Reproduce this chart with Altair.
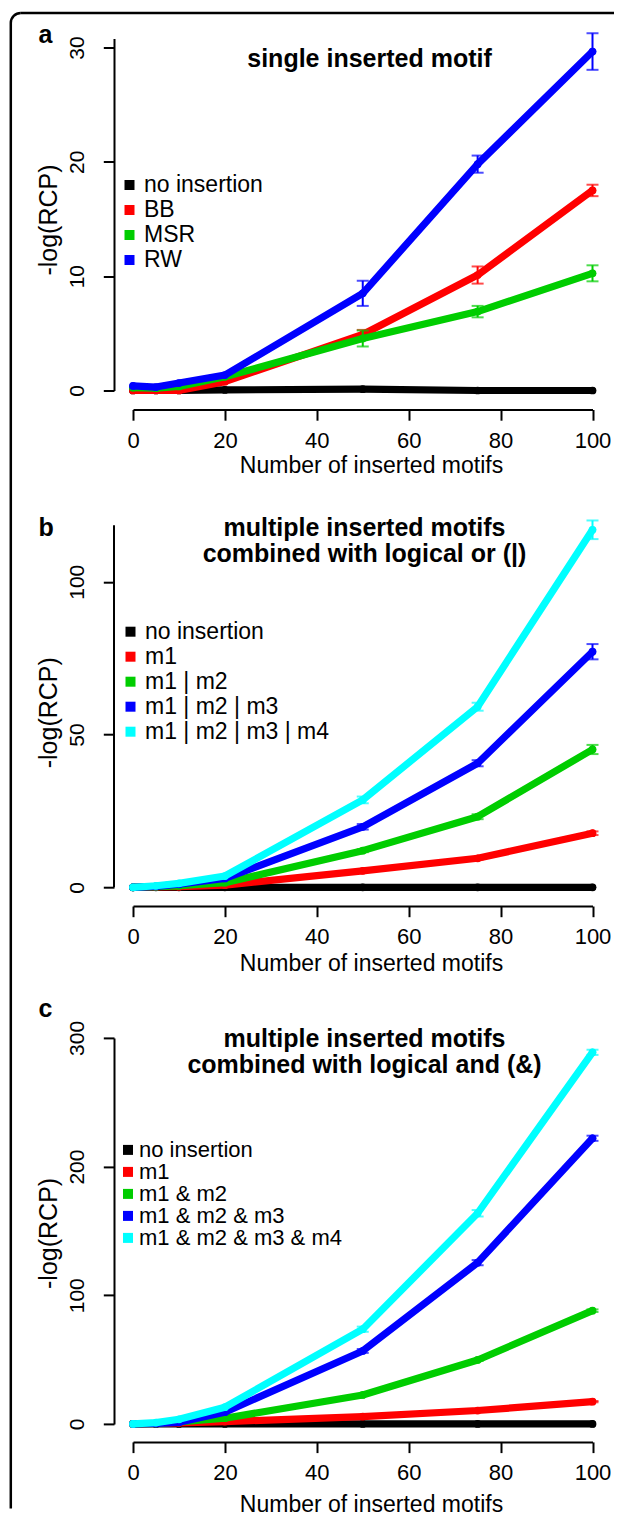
import altair as alt
import pandas as pd

FONT = "Liberation Sans"

# ---------------- data ----------------
X = [0, 5, 10, 20, 50, 75, 100]
XTICKS = [0, 20, 40, 60, 80, 100]
COLORS4 = ["#000000", "#FF0000", "#00CD00", "#0000FF"]
COLORS5 = ["#000000", "#FF0000", "#00CD00", "#0000FF", "#00FFFF"]

# panel a: single inserted motif
A_NAMES = ["no insertion", "BB", "MSR", "RW"]
A_NOINS = [0.0, 0.0, 0.0, 0.05, 0.12, 0.0, 0.0]
A_BB = [0.0, 0.0, 0.0, 0.77, 4.9, 10.1, 17.5]
A_MSR = [0.25, 0.2, 0.35, 1.2, 4.55, 6.9, 10.25]
A_RW = [0.4, 0.3, 0.65, 1.35, 8.5, 19.8, 29.65]
A_NOINS_ERR = [0, 0, 0, 0, 0, 0, 0]
A_BB_ERR = [0, 0, 0, 0, 0.4, 0.75, 0.5]
A_MSR_ERR = [0, 0, 0, 0, 0.7, 0.5, 0.7]
A_RW_ERR = [0, 0, 0, 0, 1.1, 0.75, 1.6]

# panel b: logical or
B_NAMES = ["no insertion", "m1", "m1 | m2", "m1 | m2 | m3", "m1 | m2 | m3 | m4"]
B_NOINS = [0, 0, 0, 0, 0, 0, 0]
B_M1 = [0.0, 0.1, 0.2, 0.7, 5.4, 9.5, 17.7]
B_M12 = [0.0, 0.2, 0.5, 1.5, 12.0, 23.1, 45.1]
B_M123 = [0.0, 0.3, 1.0, 2.9, 19.8, 40.6, 77.1]
B_M1234 = [0.0, 0.5, 1.3, 3.7, 28.6, 59.1, 117.0]
B_NOINS_ERR = [0, 0, 0, 0, 0, 0, 0]
B_M1_ERR = [0, 0, 0, 0, 0.3, 0.4, 0.6]
B_M12_ERR = [0, 0, 0, 0, 0.5, 0.8, 1.5]
B_M123_ERR = [0, 0, 0, 0, 0.9, 1.0, 2.5]
B_M1234_ERR = [0, 0, 0, 0, 1.1, 1.3, 3.05]

# panel c: logical and
C_NAMES = ["no insertion", "m1", "m1 & m2", "m1 & m2 & m3", "m1 & m2 & m3 & m4"]
C_NOINS = [0, 0, 0, 0, 0, 0, 0]
C_M1 = [0.0, 0.3, 0.8, 1.8, 5.7, 10.4, 17.3]
C_M12 = [0.0, 0.4, 1.5, 4.4, 22.5, 49.7, 88.0]
C_M123 = [0.0, 0.3, 1.2, 9.1, 56.7, 125.3, 222.0]
C_M1234 = [0.0, 1.0, 3.6, 13.0, 73.6, 163.7, 288.8]
C_NOINS_ERR = [0, 0, 0, 0, 0, 0, 0]
C_M1_ERR = [0, 0, 0, 0, 0.3, 0.4, 0.5]
C_M12_ERR = [0, 0, 0, 0, 0.5, 0.7, 1.0]
C_M123_ERR = [0, 0, 0, 0, 1.5, 2.0, 2.0]
C_M1234_ERR = [0, 0, 0, 0, 2.0, 2.5, 2.0]

ONE = pd.DataFrame({"k": [0]})


def xaxis(offset, title_y):
    return alt.Axis(values=XTICKS, title="Number of inserted motifs", grid=False,
                    offset=offset, domainColor="black", domainWidth=2,
                    tickColor="black", tickWidth=2, tickSize=10.7,
                    labelFont=FONT, labelFontSize=22, labelColor="black",
                    labelPadding=10, labelFlush=False, labelOverlap=False,
                    labelAngle=0, labelAlign="center", labelBaseline="top",
                    titleFont=FONT, titleFontSize=23, titleFontWeight="normal",
                    titleColor="black", titleX=238, titleY=title_y,
                    titleAlign="center", titleBaseline="alphabetic")


def yaxis(values, title_y, domain=True):
    return alt.Axis(values=values, title="-log(RCP)", grid=False, offset=19,
                    domain=domain, domainColor="black", domainWidth=2,
                    tickColor="black", tickWidth=2, tickSize=10.7,
                    labelFont=FONT, labelFontSize=21, labelColor="black",
                    labelPadding=19.6, labelFlush=False, labelOverlap=False,
                    labelAngle=270, labelAlign="center", labelBaseline="alphabetic",
                    titleFont=FONT, titleFontSize=25, titleFontWeight="normal",
                    titleColor="black", titleX=-65.3, titleY=title_y,
                    titleAngle=270, titleAlign="center", titleBaseline="middle")


def text_layer(txt, x, y, size=25, bold=True, align="center"):
    return alt.Chart(ONE).mark_text(
        font=FONT, fontSize=size, fontWeight="bold" if bold else "normal",
        align=align, baseline="alphabetic", color="black"
    ).encode(x=alt.value(x), y=alt.value(y), text=alt.value(txt))


def panel(names, ys, errs, colors, ydom, height, yvals, ax_x, ax_y,
          legend_xy, legend_row, legend_off, legend_font, extra):
    xs = alt.Scale(domain=[0, 100], nice=False, zero=False)
    ysc = alt.Scale(domain=ydom, nice=False, zero=False)
    layers = []
    for name, vals, err, col in zip(names, ys, errs, colors):
        df = pd.DataFrame({"x": X, "y": vals, "err": err})
        df["lo"] = df["y"] - df["err"]
        df["hi"] = df["y"] + df["err"]
        base = alt.Chart(df)
        layers.append(base.mark_line(color=col, strokeWidth=7.2, strokeCap="round",
                                     strokeJoin="round").encode(
            x=alt.X("x:Q", scale=xs, axis=ax_x), y=alt.Y("y:Q", scale=ysc, axis=ax_y)))
        layers.append(base.mark_circle(color=col, size=60, opacity=1).encode(
            x=alt.X("x:Q", scale=xs, axis=ax_x), y=alt.Y("y:Q", scale=ysc, axis=ax_y)))
        ebase = base.transform_filter("datum.err > 0")
        layers.append(ebase.mark_rule(color=col, strokeWidth=2).encode(
            x=alt.X("x:Q", scale=xs, axis=ax_x), y=alt.Y("lo:Q", scale=ysc, axis=ax_y),
            y2="hi:Q"))
        for f in ["lo", "hi"]:
            layers.append(ebase.mark_tick(color=col, orient="horizontal", size=12,
                                          thickness=2).encode(
                x=alt.X("x:Q", scale=xs, axis=ax_x), y=alt.Y(f + ":Q", scale=ysc, axis=ax_y)))
    # legend carrier (invisible squares)
    ldf = pd.DataFrame({"series": names, "x": [0] * len(names), "y": [0] * len(names)})
    layers.append(alt.Chart(ldf).mark_square(size=100, opacity=0).encode(
        x=alt.X("x:Q", scale=xs, axis=ax_x), y=alt.Y("y:Q", scale=ysc, axis=ax_y),
        color=alt.Color("series:N", scale=alt.Scale(domain=names, range=colors),
                        legend=alt.Legend(orient="none", legendX=legend_xy[0],
                                          legendY=legend_xy[1], title=None,
                                          symbolType="square", symbolSize=100,
                                          symbolStrokeWidth=0, symbolOpacity=1,
                                          labelFont=FONT, labelFontSize=legend_font,
                                          labelColor="black", rowPadding=legend_row,
                                          labelOffset=legend_off, padding=0,
                                          labelLimit=400))))
    layers.extend(extra)
    return alt.layer(*layers).properties(width=459.5, height=height)


# frame pieces and annotations (panel a)
frame = [
    alt.Chart(ONE).mark_rule(color="black", strokeWidth=2.5).encode(
        x=alt.value(-122.2), y=alt.value(-15.5), y2=alt.value(1470)),
    alt.Chart(ONE).mark_rule(color="black", strokeWidth=2.5).encode(
        x=alt.value(-112.2), x2=alt.value(481), y=alt.value(-25.5)),
    alt.Chart(ONE).mark_arc(innerRadius=8.75, outerRadius=11.25, theta=4.7124,
                            theta2=6.2832, color="black").encode(
        x=alt.value(-112.2), y=alt.value(-15.5)),
]

pa = panel(A_NAMES, [A_NOINS, A_BB, A_MSR, A_RW],
           [A_NOINS_ERR, A_BB_ERR, A_MSR_ERR, A_RW_ERR], COLORS4,
           [0, 30.79], 352, [0, 10, 20, 30], xaxis(19, 62.7), yaxis([0, 10, 20, 30], 181),
           (-15, 135), 1, 3, 23,
           frame + [text_layer("single inserted motif", 236.5, 28.7),
                    text_layer("a", -94.5, 4.7, align="left")])

pb = panel(B_NAMES, [B_NOINS, B_M1, B_M12, B_M123, B_M1234],
           [B_NOINS_ERR, B_M1_ERR, B_M12_ERR, B_M123_ERR, B_M1234_ERR], COLORS5,
           [-5.2, 118.5], 378, [0, 50, 100], xaxis(2.8, 64), yaxis([0, 50, 100], 187, False),
           (-14, 95), 1, 3, 23,
           [alt.Chart(ONE).mark_rule(color="black", strokeWidth=2).encode(
               x=alt.value(-19), y=alt.YDatum(0), y2=alt.Y2Datum(118.5)),
            text_layer("multiple inserted motifs", 231.5, 11),
            text_layer("combined with logical or (|)", 231.5, 36.7),
            text_layer("b", -94.5, 11, align="left")])

pc = panel(C_NAMES, [C_NOINS, C_M1, C_M12, C_M123, C_M1234],
           [C_NOINS_ERR, C_M1_ERR, C_M12_ERR, C_M123_ERR, C_M1234_ERR], COLORS5,
           [0, 300], 386, [0, 100, 200, 300], xaxis(18, 70), yaxis([0, 100, 200, 300], 195),
           (-16, 101), 0, 0, 22,
           [text_layer("multiple inserted motifs", 231.5, 9),
            text_layer("combined with logical and (&)", 231.5, 35),
            text_layer("c", -94.5, -20.7, align="left")])

chart = alt.vconcat(pa, pb, pc, spacing=134.7, bounds="flush").resolve_scale(
    color="independent"
).resolve_legend(color="independent").properties(
    padding={"left": 1, "top": 3.5, "right": 0, "bottom": 0}
).configure(font=FONT).configure_view(stroke=None)

chart.save("out.html", embed_options={"renderer": "svg", "actions": False})
